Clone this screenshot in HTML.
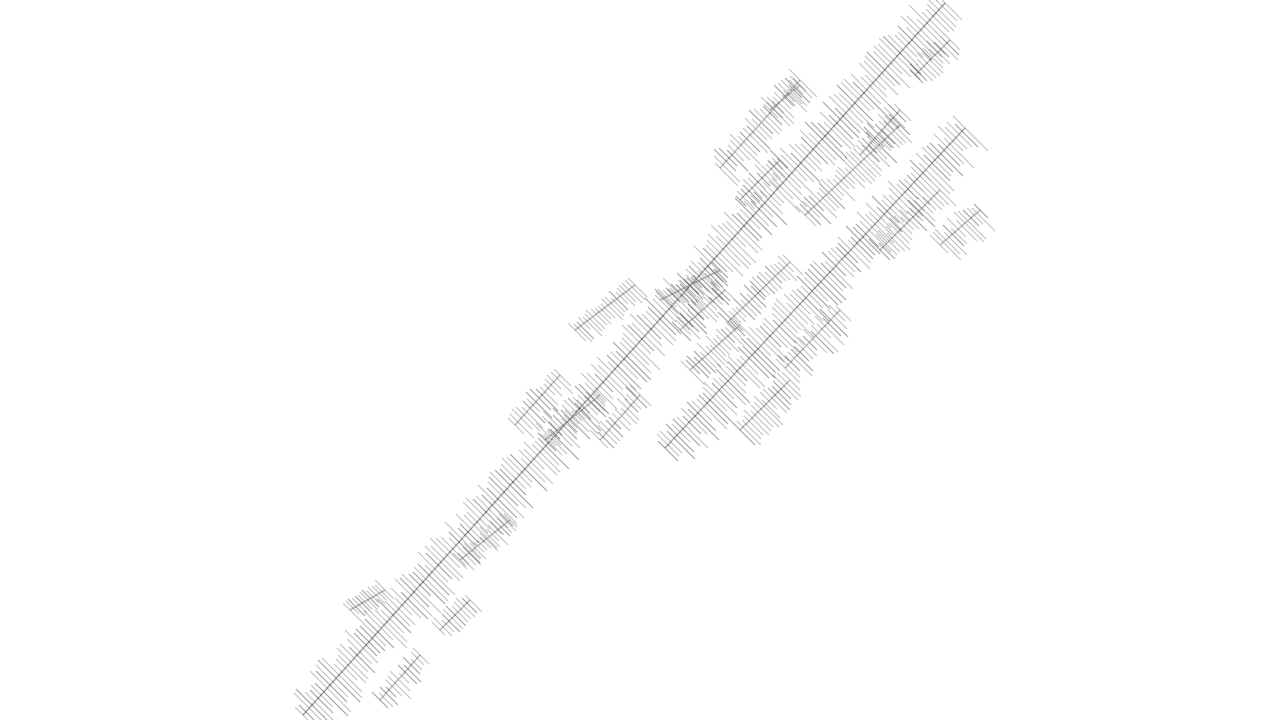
<!DOCTYPE html>
<html><head><meta charset="utf-8"><style>html,body{margin:0;padding:0;background:#fff;width:1280px;height:720px;overflow:hidden}canvas{display:block}</style></head>
<body><canvas id="c" width="1280" height="720"></canvas>
<script>
var c=document.getElementById('c').getContext('2d');
var s=12345;function r(){s=(s*16807)%2147483647;return s/2147483647;}
function dl(x,y,a,b,col){c.fillStyle=col;for(var k=-a;k<=b;k++){c.fillRect(x+k,y+k,1,1);}}
function spine(x0,y0,x1,y1,lenA,lenB,dark,sc){
  var dx=x1-x0,dy=y1-y0,n=Math.round(Math.abs(dx)/3);
  for(var i=0;i<=n;i++){
    var t=i/n,px=Math.round(x0+dx*t),py=Math.round(y0+dy*t);
    var a=Math.round(lenA*(0.5+0.9*r())),b=Math.round(lenB*(0.5+0.9*r()));
    dl(px,py,a,b,r()<dark?'#6a6a6a':'#9c9c9c');
  }
  c.strokeStyle=sc||'#777';c.lineWidth=1;c.beginPath();c.moveTo(x0,y0);c.lineTo(x1,y1);c.stroke();
}
spine(303,715,945,3,13,17,0.3,'#444');
spine(665,448,965,128,11,17,0.35,'#555');
spine(805,215,900,125,9,12,0.3);
spine(940,245,980,210,8,13,0.3);
spine(720,168,800,80,9,13,0.35);
spine(600,440,640,395,8,8,0.4);
spine(515,425,560,375,8,11,0.25);
spine(680,330,725,290,8,10,0.5);
spine(728,322,790,262,8,10,0.35);
spine(785,368,840,310,8,13,0.35);
spine(740,430,790,380,8,13,0.25);
spine(690,370,740,325,8,10,0.35);
spine(860,155,900,110,8,10,0.35);
spine(915,75,950,40,8,10,0.25);
spine(380,700,420,655,6,11,0.25);
spine(350,610,385,590,8,8,0.25);
spine(440,630,470,600,8,8,0.35);
spine(575,330,635,285,6,10,0.25);
spine(660,300,720,270,6,10,0.5);
spine(880,250,940,190,8,11,0.25);
spine(740,200,780,160,7,9,0.3);
spine(460,560,510,520,7,9,0.2);
spine(545,440,600,395,6,8,0.3);
spine(770,110,800,85,6,8,0.3);
</script></body></html>
